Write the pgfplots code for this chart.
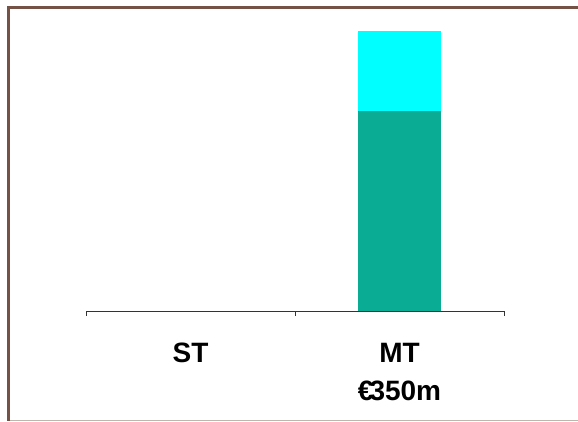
\documentclass[border=0pt]{standalone}
\usepackage{fontspec}
\setmainfont{Liberation Sans}
\usepackage{pgfplots}
\pgfplotsset{compat=1.18}
\definecolor{tealbar}{RGB}{10,173,148}
\definecolor{cyanbar}{RGB}{0,255,255}
\definecolor{framebrown}{RGB}{117,82,70}
\definecolor{framegrey}{RGB}{190,182,174}
\begin{document}
\begin{tikzpicture}[x=1pt,y=1pt]
\useasboundingbox (0,0) rectangle (578,422);
\fill[white] (0,0) rectangle (578,422);
% frame
\draw[framegrey, line width=1pt] (8,1.5) -- (578,1.5);
\draw[framebrown, line width=3.5pt] (8.5,1) -- (8.5,414.7);
\draw[framebrown, line width=3.5pt] (6.75,414.7) -- (578,414.7);
\begin{axis}[
  at={(86pt,111pt)}, anchor=south west,
  scale only axis, width=418pt, height=288pt,
  xmin=-0.5, xmax=1.5, ymin=0, ymax=360,
  axis x line=bottom, axis y line=none,
  x axis line style={-, black!80, line width=0.8pt},
  xtick={-0.5,0.5,1.5}, xticklabels={},
  tick align=outside, major tick length=5pt,
  xtick style={black!80, line width=0.8pt},
  ybar stacked, bar width=83pt,
  clip=false,
]
\addplot[fill=tealbar, draw=none] coordinates {(0,0) (1,250)};
\addplot[fill=cyanbar, draw=none] coordinates {(0,0) (1,100)};
\node[anchor=base, font=\fontsize{28}{30}\selectfont\bfseries] at ([yshift=-52pt]axis cs:0,0) {ST};
\node[anchor=base, font=\fontsize{28}{30}\selectfont\bfseries] at ([yshift=-52pt]axis cs:1,0) {MT};
\node[anchor=base, font=\fontsize{28}{30}\selectfont\bfseries] at ([yshift=-90pt]axis cs:1,0) {€\kern-4pt350m};
\end{axis}
\end{tikzpicture}
\end{document}
